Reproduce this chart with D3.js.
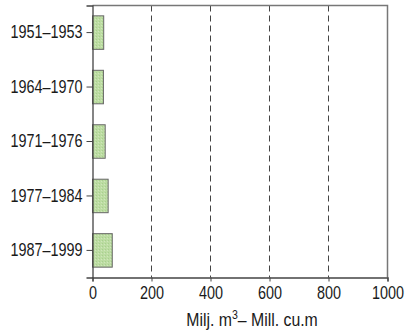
<!DOCTYPE html>
<html><head><meta charset="utf-8">
<script src="https://cdn.jsdelivr.net/npm/d3@7"></script>
<style>
body{margin:0;background:#fff;}
text{font-family:"Liberation Sans",Arial,sans-serif;fill:#1a1a1a;}
</style></head>
<body><svg id="c" width="412" height="332"></svg>
<script>
const categories = ["1951–1953","1964–1970","1971–1976","1977–1984","1987–1999"];
const values = [38, 37, 43, 53, 67];
const xTicks = [0,200,400,600,800,1000];
const gridTicks = [200,400,600,800];
const xLabel = "Milj. m";
const xLabelSup = "3";
const xLabelRest = "– Mill. cu.m";

const svg = d3.select("#c");
const L=92.5, R=387.5, T=5.5, B=277.5;
const SX = 0.8; // horizontal condensing of tick text
const x = d3.scaleLinear().domain([0,1000]).range([L,R]);
const y = d3.scaleBand().domain(categories).range([T,B]).paddingInner(0.385).paddingOuter(0.19);

const defs = svg.append("defs");
const pat = defs.append("pattern").attr("id","hatch").attr("patternUnits","userSpaceOnUse").attr("width",3).attr("height",3);
pat.append("rect").attr("width",3).attr("height",3).attr("fill","#bcdca2");
pat.append("rect").attr("width",1).attr("height",1).attr("fill","#a8d08e");
pat.append("rect").attr("x",2).attr("y",1).attr("width",1).attr("height",1).attr("fill","#cfe7bb");

// grid
svg.append("g").selectAll("line").data(gridTicks).join("line")
  .attr("x1",d=>x(d)).attr("x2",d=>x(d)).attr("y1",T).attr("y2",B)
  .attr("stroke","#444").attr("stroke-width",1).attr("stroke-dasharray","6,4");

// frame top/right
svg.append("path").attr("d",`M${L},${T}H${R}V${B}`).attr("fill","none").attr("stroke","#777").attr("stroke-width",1.5);

// bars
svg.append("g").selectAll("rect").data(values).join("rect")
  .attr("x",x(0)).attr("y",(d,i)=>y(categories[i]))
  .attr("width",d=>x(d)-x(0)).attr("height",y.bandwidth())
  .attr("fill","url(#hatch)").attr("stroke","#666").attr("stroke-width",1);

// x axis
const xa = svg.append("g").attr("transform",`translate(0,${B})`)
  .call(d3.axisBottom(x).tickValues(xTicks).tickSize(4).tickPadding(5).tickFormat(d3.format("d")));
xa.select(".domain").attr("stroke","#444").attr("stroke-width",1.3);
xa.selectAll(".tick line").attr("stroke","#444");
xa.selectAll("text").attr("font-size","18px").attr("fill","#1a1a1a")
  .style("font-family",'"Liberation Sans",sans-serif')
  .attr("transform",`scale(${SX},1)`);

// y axis
const ya = svg.append("g").attr("transform",`translate(${L},0)`)
  .call(d3.axisLeft(y).tickSize(6).tickPadding(4));
ya.select(".domain").attr("stroke","#444").attr("stroke-width",1.3);
ya.selectAll(".tick line").attr("stroke","#444");
ya.selectAll("text").attr("font-size","18px").attr("fill","#1a1a1a")
  .style("font-family",'"Liberation Sans",sans-serif')
  .attr("x", -10/SX).attr("transform",`scale(${SX},1)`);

// x label
const t = svg.append("text").attr("transform",`translate(252,325.5) scale(0.88,1)`)
  .attr("text-anchor","middle").attr("font-size","18px");
t.append("tspan").text(xLabel);
t.append("tspan").attr("dy",-7).attr("font-size","12px").text(xLabelSup);
t.append("tspan").attr("dy",7).text(xLabelRest);
</script></body></html>
